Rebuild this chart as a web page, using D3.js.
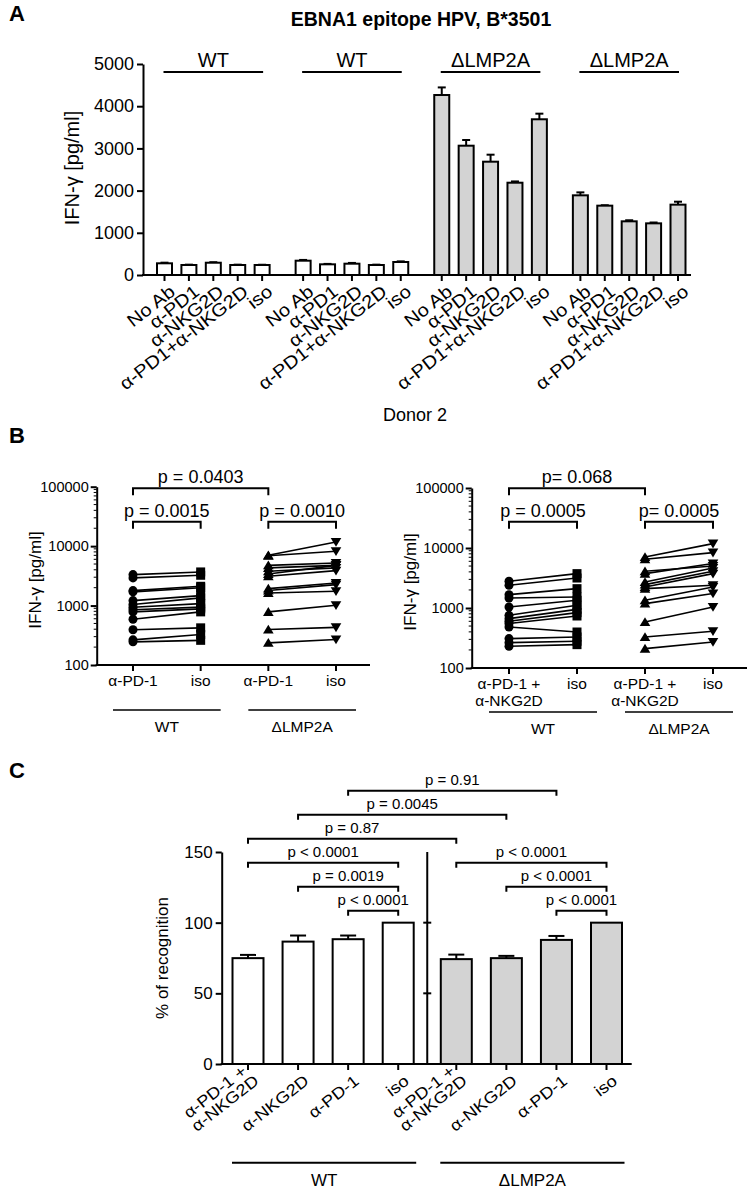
<!DOCTYPE html>
<html><head><meta charset="utf-8">
<script src="https://cdn.jsdelivr.net/npm/d3@7"></script>
<style>
body{margin:0;background:#fff}
text{font-family:"Liberation Sans",Arial,Helvetica,sans-serif;fill:#000}
</style>
</head><body>
<svg id="fig" width="751" height="1190"></svg>
<script>
// ================= DATA =================
// Panel A
const aTitle = "EBNA1 epitope HPV, B*3501";
const aGroups = ["WT", "WT", "ΔLMP2A", "ΔLMP2A"];
const aConditions = ["No Ab", "α-PD1", "α-NKG2D", "α-PD1+α-NKG2D", "iso"];
const aValues = [
  [277, 237, 291, 237, 237],
  [339, 253, 268, 237, 308],
  [4265, 3064, 2685, 2187, 3690],
  [1888, 1643, 1272, 1224, 1667]
];
const aErrors = [
  [15, 8, 12, 8, 6],
  [18, 10, 18, 8, 15],
  [180, 135, 166, 30, 133],
  [70, 10, 25, 20, 70]
];
const aYTicks = [0, 1000, 2000, 3000, 4000, 5000];
const aXTitle = "Donor 2";
const aYTitle = "IFN-γ [pg/ml]";

// Panel B (left: α-PD-1 vs iso ; right: α-PD-1 + α-NKG2D vs iso)
const bLeftCats = [["α-PD-1"], ["iso"], ["α-PD-1"], ["iso"]];
const bRightCats = [["α-PD-1 +", "α-NKG2D"], ["iso"], ["α-PD-1 +", "α-NKG2D"], ["iso"]];
const bGroups = ["WT", "ΔLMP2A"];
const bYTicks = [100, 1000, 10000, 100000];
const bWT_PD1   = [3319, 2920, 1786, 1700, 1213, 1040, 937, 850, 783, 589, 391, 265, 245];
const bWT_iso   = [3680, 3235, 2110, 2000, 1470, 1346, 1080, 940, 880, 783, 422, 326, 260];
const bLMP_PD1  = [7000, 6900, 4750, 4300, 3780, 3400, 3110, 1930, 1790, 1630, 783, 395, 236];
const bLMP_iso  = [11750, 8180, 5210, 4750, 4300, 4750, 3870, 2400, 2250, 1740, 1010, 430, 268];
const bWT_combo  = [2786, 2390, 1670, 1468, 1040, 755, 665, 600, 550, 482, 309, 265, 230];
const bWT_iso2   = [3740, 3160, 2100, 1525, 1343, 1110, 950, 837, 736, 398, 329, 279, 245];
const bLMP_combo = [7080, 6480, 4090, 3740, 2710, 2455, 2240, 2100, 1343, 1183, 585, 329, 210];
const bLMP_iso2  = [11840, 8380, 5010, 5500, 4640, 4090, 3740, 2390, 2240, 1740, 1040, 409, 271];
const bLeftP  = ["p = 0.0403", "p = 0.0015", "p = 0.0010"];
const bRightP = ["p= 0.068", "p = 0.0005", "p= 0.0005"];

// Panel C
const cCats = [["α-PD-1 +", "α-NKG2D"], ["α-NKG2D"], ["α-PD-1"], ["iso"],
               ["α-PD-1 +", "α-NKG2D"], ["α-NKG2D"], ["α-PD-1"], ["iso"]];
const cValues = [74.9, 86.6, 88.3, 100, 74.2, 74.9, 87.8, 100];
const cErrors = [2.3, 4.3, 2.6, 0, 3.2, 1.6, 2.8, 0];
const cYTicks = [0, 50, 100, 150];
const cGroups = ["WT", "ΔLMP2A"];
// [from bar, to bar, stacking level, label]
const cBrackets = [
  [2, 3, 0, "p < 0.0001"], [1, 3, 1, "p = 0.0019"], [0, 3, 2, "p < 0.0001"],
  [0, 4, 3, "p = 0.87"], [1, 5, 4, "p = 0.0045"], [2, 6, 5, "p = 0.91"],
  [6, 7, 0, "p < 0.0001"], [5, 7, 1, "p < 0.0001"], [4, 7, 2, "p < 0.0001"]
];
const cYTitle = "% of recognition";

// ================= DRAW =================
const svg = d3.select("#fig");
const SW = 2;

function line(g, x1, y1, x2, y2, w) {
  g.append("line").attr("x1", x1).attr("y1", y1).attr("x2", x2).attr("y2", y2)
    .attr("stroke", "#000").attr("stroke-width", w || SW);
}
function bracket(g, x1, x2, y, tick, label, fs, gap) {
  g.append("path").attr("d", `M${x1},${y + tick}V${y}H${x2}V${y + tick}`)
    .attr("fill", "none").attr("stroke", "#000").attr("stroke-width", SW);
  g.append("text").attr("x", (x1 + x2) / 2).attr("y", y - gap)
    .attr("text-anchor", "middle").style("font-size", fs + "px").text(label);
}
function styleAxis(g, fs) {
  g.selectAll("path.domain").attr("stroke", "#000").attr("stroke-width", SW);
  g.selectAll(".tick line").attr("stroke", "#000").attr("stroke-width", SW);
  g.selectAll(".tick text").style("font-size", fs + "px")
    .style("font-family", '"Liberation Sans",Arial,sans-serif').attr("fill", "#000");
}

// Panel letters
[["A", 21], ["B", 443], ["C", 778]].forEach(([t, y]) => {
  svg.append("text").attr("x", 9).attr("y", y).style("font-size", "22px")
    .style("font-weight", "bold").text(t);
});

// ---------- Panel A ----------
{
  const g = svg.append("g");
  const x0 = 143, y0 = 275, xEnd = 691;
  const yA = d3.scaleLinear().domain([0, 5000]).range([275, 64]);
  const gapSlots = 0.68;
  const xA = d3.scaleLinear().domain([0, 3 * (5 + gapSlots) + 4]).range([164.5, 678]);
  const pos = (gi, i) => xA(gi * (5 + gapSlots) + i);
  const fills = ["#ffffff", "#ffffff", "#d3d3d3", "#d3d3d3"];

  g.append("text").attr("x", 421).attr("y", 26).attr("text-anchor", "middle")
    .style("font-size", "19.5px").style("font-weight", "bold").text(aTitle);

  const yAx = g.append("g").attr("transform", `translate(${x0},0)`)
    .call(d3.axisLeft(yA).tickValues(aYTicks).tickSize(6).tickSizeOuter(0).tickPadding(3).tickFormat(d3.format("d")));
  styleAxis(yAx, 18);
  line(g, x0 - 1, y0, xEnd, y0);

  g.append("text").attr("transform", `translate(79,168) rotate(-90)`)
    .attr("text-anchor", "middle").style("font-size", "20px").text(aYTitle);

  const bw = 15;
  aValues.forEach((vals, gi) => {
    const xa = pos(gi, 0), xb = pos(gi, 4);
    g.append("text").attr("x", (xa + xb) / 2).attr("y", 67).attr("text-anchor", "middle")
      .style("font-size", "20px").text(aGroups[gi]);
    line(g, xa - 1, 72, xb + 1, 72);
    vals.forEach((v, i) => {
      const xc = pos(gi, i);
      const e = aErrors[gi][i];
      line(g, xc, yA(v), xc, yA(v + e));
      line(g, xc - 4, yA(v + e), xc + 4, yA(v + e));
      g.append("rect").attr("x", xc - bw / 2).attr("y", yA(v)).attr("width", bw)
        .attr("height", y0 - yA(v)).attr("fill", fills[gi]).attr("stroke", "#000").attr("stroke-width", SW);
      line(g, xc, y0, xc, y0 + 6);
      g.append("text").attr("transform", `translate(${xc + 4},${y0 + 9}) rotate(-38) scale(1.12,1)`)
        .attr("text-anchor", "end").attr("dy", "0.7em").style("font-size", "18px").text(aConditions[i]);
    });
  });
  g.append("text").attr("x", 415).attr("y", 421).attr("text-anchor", "middle")
    .style("font-size", "18px").text(aXTitle);
}

// ---------- Panel B ----------
function pairedPanel(opts) {
  const g = svg.append("g");
  const y = d3.scaleLog().domain([100, 100000]).range([opts.yBottom, opts.yTop]);
  const x = d3.scaleLinear().domain([0, 3]).range(opts.xRange);
  const minor = [];
  for (let d = 100; d < 100000; d *= 10) for (let k = 2; k <= 9; k++) minor.push(d * k);
  const ax = g.append("g").attr("transform", `translate(${opts.xAxis},0)`)
    .call(d3.axisLeft(y).tickValues(bYTicks).tickSize(6).tickSizeOuter(0).tickPadding(2).tickFormat(d3.format("d")));
  styleAxis(ax, 14.5);
  g.selectAll(null).data(minor).enter().append("line")
    .attr("x1", opts.xAxis - 3).attr("x2", opts.xAxis).attr("y1", d => y(d)).attr("y2", d => y(d))
    .attr("stroke", "#000").attr("stroke-width", 1);
  line(g, opts.xAxis - 1, opts.yBottom, opts.xEnd, opts.yBottom);
  [0, 1, 2, 3].forEach(i => line(g, x(i), opts.yBottom, x(i), opts.yBottom + 6));

  g.append("text").attr("transform", `translate(${opts.yLabelX},${opts.yLabelY}) rotate(-90)`)
    .attr("text-anchor", "middle").style("font-size", "17px").text(aYTitle);

  opts.cats.forEach((lines, i) => {
    lines.forEach((t, j) => {
      g.append("text").attr("x", x(i)).attr("y", opts.catY + j * 17).attr("text-anchor", "middle")
        .style("font-size", "15.5px").text(t);
    });
  });
  bGroups.forEach((t, gi) => {
    const xa = x(gi * 2) - 20, xb = x(gi * 2 + 1) + 20;
    line(g, xa, opts.underY, xb, opts.underY, 1.5);
    g.append("text").attr("x", (xa + xb) / 2).attr("y", opts.underY + 22).attr("text-anchor", "middle")
      .style("font-size", "15.5px").text(t);
  });

  const sets = [[opts.d[0], opts.d[1], 0], [opts.d[2], opts.d[3], 2]];
  sets.forEach(([a, b, c0]) => {
    a.forEach((v, k) => line(g, x(c0), y(v), x(c0 + 1), y(b[k]), 1.6));
  });
  const mk = g.append("g");
  mk.selectAll(null).data(opts.d[0]).enter().append("circle")
    .attr("cx", x(0)).attr("cy", d => y(d)).attr("r", 4.5).attr("fill", "#000");
  mk.selectAll(null).data(opts.d[1]).enter().append("rect")
    .attr("x", x(1) - 4.5).attr("y", d => y(d) - 4.5).attr("width", 9).attr("height", 9).attr("fill", "#000");
  mk.selectAll(null).data(opts.d[2]).enter().append("path")
    .attr("transform", d => `translate(${x(2)},${y(d)})`).attr("d", "M0,-4.8L5.3,4L-5.3,4Z").attr("fill", "#000");
  mk.selectAll(null).data(opts.d[3]).enter().append("path")
    .attr("transform", d => `translate(${x(3)},${y(d)})`).attr("d", "M0,4.8L5.3,-4L-5.3,-4Z").attr("fill", "#000");

  bracket(g, x(0), x(2), 488.3, 7, opts.p[0], 18, 5);
  bracket(g, x(0), x(1), 521.7, 7, opts.p[1], 18, 5);
  bracket(g, x(2), x(3), 521.7, 7, opts.p[2], 18, 5);
}

pairedPanel({
  yBottom: 665, yTop: 486.7, xRange: [133, 336], xAxis: 96.7, xEnd: 370,
  yLabelX: 41, yLabelY: 580, cats: bLeftCats, catY: 686, underY: 710,
  d: [bWT_PD1, bWT_iso, bLMP_PD1, bLMP_iso], p: bLeftP
});
pairedPanel({
  yBottom: 668, yTop: 488, xRange: [509, 713], xAxis: 471.7, xEnd: 747,
  yLabelX: 416, yLabelY: 582, cats: bRightCats, catY: 689, underY: 712,
  d: [bWT_combo, bWT_iso2, bLMP_combo, bLMP_iso2], p: bRightP
});

// ---------- Panel C ----------
{
  const g = svg.append("g");
  const x0 = 221.7, y0 = 1064, xEnd = 631.7;
  const yC = d3.scaleLinear().domain([0, 150]).range([1064, 852]);
  const gap = 0.16;
  const p = i => i + (i >= 4 ? gap : 0);
  const xC = d3.scaleLinear().domain([0, 7 + gap]).range([248, 606.5]);
  const xc = i => xC(p(i));
  const bw = 31;

  const ax = g.append("g").attr("transform", `translate(${x0},0)`)
    .call(d3.axisLeft(yC).tickValues(cYTicks).tickSize(6).tickSizeOuter(0).tickPadding(3));
  styleAxis(ax, 17);
  line(g, x0 - 1, y0, xEnd, y0);
  g.append("text").attr("transform", `translate(168,958) rotate(-90)`)
    .attr("text-anchor", "middle").style("font-size", "17px").text(cYTitle);

  const xb = (xc(3) + xc(4)) / 2;
  line(g, xb, yC(150), xb, y0);
  [50, 100].forEach(v => line(g, xb - 4, yC(v), xb + 4, yC(v)));

  cValues.forEach((v, i) => {
    const X = xc(i), e = cErrors[i];
    if (e > 0) {
      line(g, X, yC(v), X, yC(v + e));
      line(g, X - 8, yC(v + e), X + 8, yC(v + e));
    }
    g.append("rect").attr("x", X - bw / 2).attr("y", yC(v)).attr("width", bw).attr("height", y0 - yC(v))
      .attr("fill", i < 4 ? "#ffffff" : "#d3d3d3").attr("stroke", "#000").attr("stroke-width", SW);
    line(g, X, y0, X, y0 + 6);
    const t = g.append("text").attr("transform", `translate(${X + 5},${y0 + 10}) rotate(-38) scale(1.15,1)`)
      .attr("text-anchor", "end").style("font-size", "16px");
    const L = cCats[i];
    L.forEach((s, j) => {
      const k = j - (L.length - 1);
      t.append("tspan").attr("x", (k * 0.2) + "em").attr("y", 0)
        .attr("dy", (0.7 + k * 0.95) + "em").text(s);
    });
  });

  cBrackets.forEach(([a, b, lev, lab]) => {
    const yy = yC(108.5) - lev * 24;
    bracket(g, xc(a), xc(b), yy, 5, lab, 15, 6);
  });

  cGroups.forEach((t, gi) => {
    const xa = xc(gi * 4) - 16, xb2 = xc(gi * 4 + 3) + 18;
    line(g, xa, 1162.7, xb2, 1162.7);
    g.append("text").attr("x", (xa + xb2) / 2).attr("y", 1186).attr("text-anchor", "middle")
      .style("font-size", "17px").text(t);
  });
}
</script>
</body></html>
